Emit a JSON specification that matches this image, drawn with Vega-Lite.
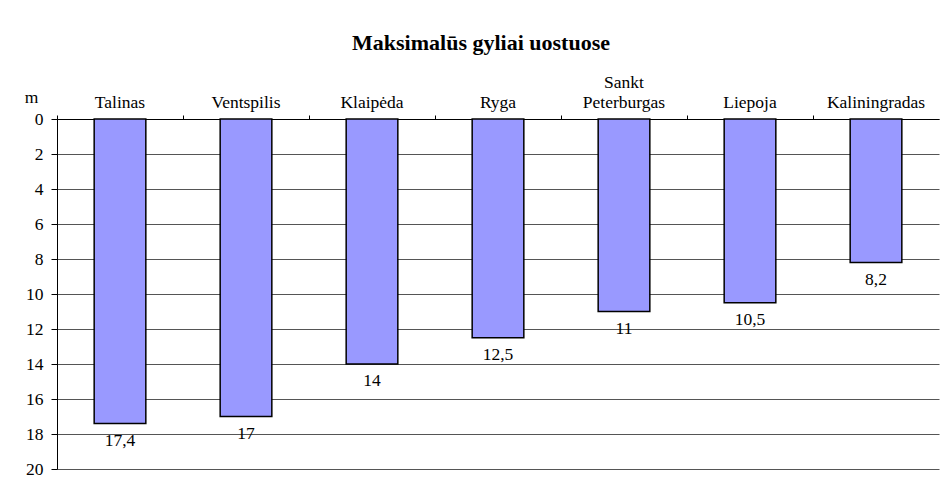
{
  "$schema": "https://vega.github.io/schema/vega-lite/v6.json",
  "autosize": "none",
  "width": 882,
  "height": 350,
  "padding": {"left": 57, "top": 119, "right": 2, "bottom": 22},
  "background": "white",
  "config": {
    "view": {"stroke": null},
    "locale": {"number": {"decimal": ",", "thousands": " ", "grouping": [3], "currency": ["", " €"]}},
    "font": "'Liberation Serif', 'DejaVu Serif', serif"
  },
  "title": {
    "text": "Maksimalūs gyliai uostuose",
    "font": "'Liberation Serif', 'DejaVu Serif', serif",
    "fontSize": 22,
    "fontWeight": "bold",
    "color": "black",
    "anchor": "middle",
    "frame": "group",
    "dx": -17,
    "offset": 18
  },
  "data": {
    "values": [
      {"uostas": "Talinas", "gylis": 17.4},
      {"uostas": "Ventspilis", "gylis": 17},
      {"uostas": "Klaipėda", "gylis": 14},
      {"uostas": "Ryga", "gylis": 12.5},
      {"uostas": "Sankt Peterburgas", "gylis": 11},
      {"uostas": "Liepoja", "gylis": 10.5},
      {"uostas": "Kaliningradas", "gylis": 8.2}
    ]
  },
  "encoding": {
    "x": {
      "field": "uostas",
      "type": "nominal",
      "sort": null,
      "scale": {"paddingInner": 0, "paddingOuter": 0},
      "axis": {
        "orient": "top",
        "title": null,
        "labelAngle": 0,
        "labelFont": "'Liberation Serif', 'DejaVu Serif', serif",
        "labelFontSize": 17.5,
        "labelColor": "black",
        "labelPadding": 23,
        "labelBaseline": "line-bottom",
        "labelLineHeight": 20,
        "labelExpr": "datum.label == 'Sankt Peterburgas' ? ['Sankt', 'Peterburgas'] : [' ', datum.label]",
        "bandPosition": 0,
        "tickSize": 4,
        "tickColor": "black",
        "domainColor": "black",
        "domainWidth": 1,
        "grid": false
      }
    },
    "y": {
      "field": "gylis",
      "type": "quantitative",
      "scale": {"domain": [0, 20], "reverse": true, "nice": false},
      "axis": {
        "values": [0, 2, 4, 6, 8, 10, 12, 14, 16, 18, 20],
        "title": "m",
        "titleAngle": 0,
        "titleFont": "'Liberation Serif', 'DejaVu Serif', serif",
        "titleFontSize": 17.5,
        "titleFontWeight": "normal",
        "titleColor": "black",
        "titleAlign": "center",
        "titleBaseline": "alphabetic",
        "titleX": -26,
        "titleY": -17,
        "labelFont": "'Liberation Serif', 'DejaVu Serif', serif",
        "labelFontSize": 17.5,
        "labelColor": "black",
        "labelPadding": 8,
        "tickSize": 6,
        "tickColor": "black",
        "domainColor": "black",
        "grid": true,
        "gridColor": "#555",
        "gridWidth": 1
      }
    }
  },
  "layer": [
    {
      "mark": {"type": "bar", "width": {"band": 0.41}, "fill": "#9999FF", "stroke": "black", "strokeWidth": 1.5}
    },
    {
      "mark": {"type": "text", "baseline": "top", "dy": 8, "font": "'Liberation Serif', 'DejaVu Serif', serif", "fontSize": 17.5, "color": "black"},
      "encoding": {
        "text": {"field": "gylis", "type": "quantitative", "format": "~g"}
      }
    }
  ]
}
